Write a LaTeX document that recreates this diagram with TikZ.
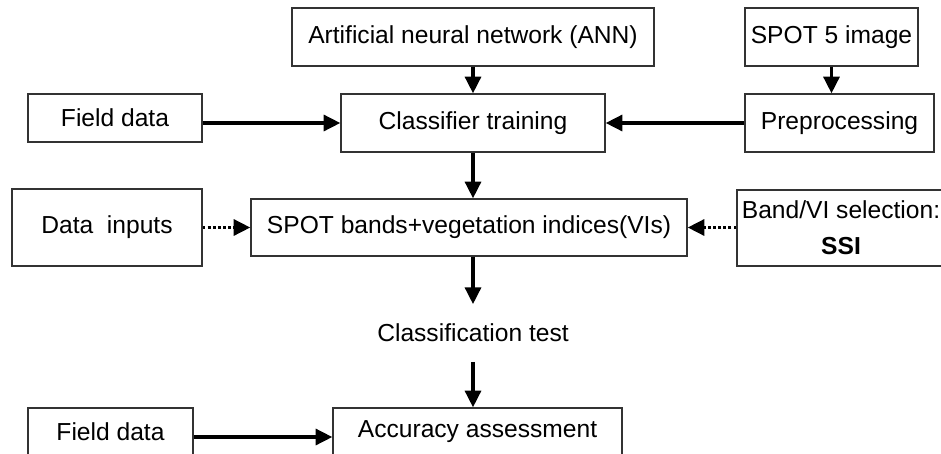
\documentclass[tikz,border=0pt]{standalone}
\usepackage{fontspec}
\setmainfont{Liberation Sans}
\usetikzlibrary{arrows.meta,positioning,calc}

\begin{document}
\begin{tikzpicture}[every node/.style={font=\fontsize{14}{16}\selectfont},
    >={Triangle[length=9.5pt,width=9pt]},
    box/.style={draw=black!80, line width=0.7pt, inner sep=0pt, align=center},
    flow/.style={->, line width=2pt},
    dotflow/.style={->, line width=2pt, dash pattern=on 1.6pt off 1.3pt}]
  \useasboundingbox (0,0) rectangle (18.82,-9.06);
  % top row
  \node[box, minimum width=7.24cm, minimum height=1.16cm] (ann) at (9.46,-0.74) {Artificial neural network (ANN)};
  \node[box, minimum width=3.46cm, minimum height=1.16cm] (spot) at (16.63,-0.74) {SPOT 5 image};
  % training row
  \node[box, minimum width=3.48cm, minimum height=0.96cm] (field) at (2.30,-2.36) {Field data};
  \node[box, minimum width=5.28cm, minimum height=1.16cm] (train) at (9.46,-2.46) {Classifier training};
  \node[box, minimum width=3.78cm, minimum height=1.16cm] (prep) at (16.79,-2.46) {Preprocessing};
  % inputs row
  \node[box, minimum width=3.80cm, minimum height=1.54cm] (inputs) at (2.14,-4.55) {Data\ \ inputs};
  \node[box, minimum width=8.72cm, minimum height=1.14cm] (bands) at (9.38,-4.55) {SPOT bands+vegetation indices(VIs)};
  \node[box, minimum width=4.16cm, minimum height=1.52cm, font=\fontsize{14}{20.5}\selectfont] (select) at (16.82,-4.56) {Band/VI selection:\\\textbf{SSI}};
  % test and assessment
  \node[inner sep=0pt, minimum height=1.14cm] (test) at (9.46,-6.66) {Classification test};
  \node[box, minimum width=3.30cm, minimum height=0.96cm] (field2) at (2.21,-8.64) {Field data};
  \node[box, minimum width=5.78cm, minimum height=0.96cm] (acc) at (9.55,-8.64) {Accuracy assessment};

  \draw[flow] (ann) -- (train);
  \draw[flow] (spot.south) -- (spot.south |- prep.north);
  \draw[flow] (field.east |- train.west) -- (train.west);
  \draw[flow] (prep) -- (train);
  \draw[flow] (train.south) -- (train.south |- bands.north);
  \draw[dotflow] (inputs.east |- bands.west) -- (bands.west);
  \draw[dotflow] (select.west |- bands.east) -- (bands.east);
  \draw[flow] (bands.south -| test.north) -- (test.north);
  \draw[flow] (test.south) -- (test.south |- acc.north);
  \draw[flow] ([yshift=-0.1cm]field2.east) -- ([yshift=-0.1cm]acc.west);
\end{tikzpicture}
\end{document}
